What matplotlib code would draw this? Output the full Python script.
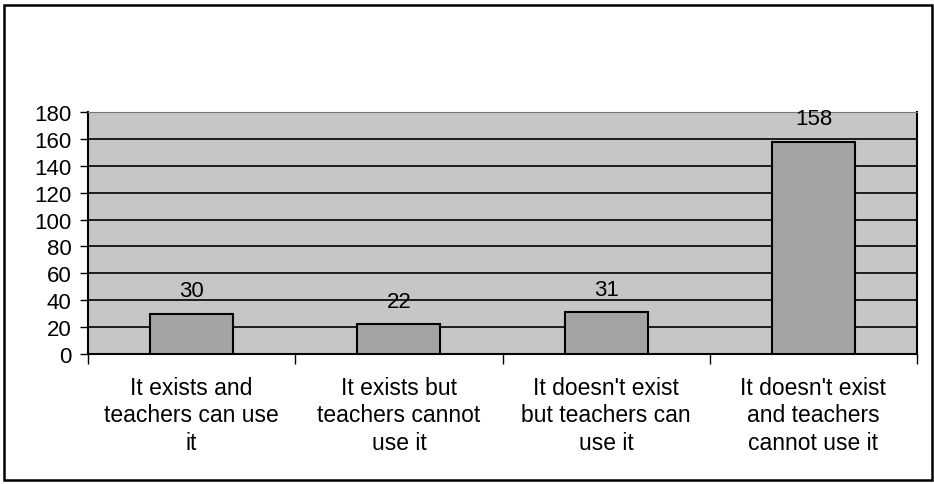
import matplotlib.pyplot as plt
from matplotlib.patches import Rectangle

# Data
categories = ["It exists and\nteachers can use\nit",
              "It exists but\nteachers cannot\nuse it",
              "It doesn't exist\nbut teachers can\nuse it",
              "It doesn't exist\nand teachers\ncannot use it"]
counts = [30, 22, 31, 158]
y_ticks = [0, 20, 40, 60, 80, 100, 120, 140, 160, 180]

plt.rcParams['font.family'] = ['Liberation Sans', 'DejaVu Sans']

fig = plt.figure(figsize=(9.34, 4.85), dpi=100)
ax = fig.add_axes([88 / 934, 1 - 355 / 485, (917 - 88) / 934, (355 - 113) / 485])

ax.set_facecolor('#c6c6c6')
x = range(len(categories))
bars = ax.bar(x, counts, width=0.4, color='#a4a4a4', edgecolor='black', linewidth=1.5, zorder=3)

for xi, v in zip(x, counts):
    ax.annotate(str(v), (xi, v), xytext=(0, 9), textcoords='offset points',
                ha='center', va='bottom', fontsize=16, zorder=4)

ax.set_xlim(-0.5, len(categories) - 0.5)
ax.set_ylim(0, 180)
ax.set_yticks(y_ticks)
ax.tick_params(axis='y', labelsize=16, length=6, width=1, pad=6)
ax.yaxis.grid(True, color='black', linewidth=1.2, zorder=1)
ax.set_axisbelow(True)

# category labels centred, ticks between categories
ax.set_xticks([i + 0.5 for i in range(-1, len(categories))])
ax.set_xticklabels([''] * (len(categories) + 1))
ax.tick_params(axis='x', length=7, width=1)
for xi, lab in zip(x, categories):
    ax.text(xi, -0.09, lab, transform=ax.get_xaxis_transform(), ha='center', va='top',
            fontsize=16.5, linespacing=1.25)

for s in ['left', 'bottom', 'right']:
    ax.spines[s].set_linewidth(1.5)
ax.spines['top'].set_color('#777777')
ax.spines['top'].set_linewidth(0.8)

# outer chart frame
fig.patches.append(Rectangle((4 / 934, 1 - 481 / 485), 928 / 934, 475 / 485,
                             transform=fig.transFigure, fill=False,
                             edgecolor='black', linewidth=1.8))

plt.savefig('out.png', dpi=100)
